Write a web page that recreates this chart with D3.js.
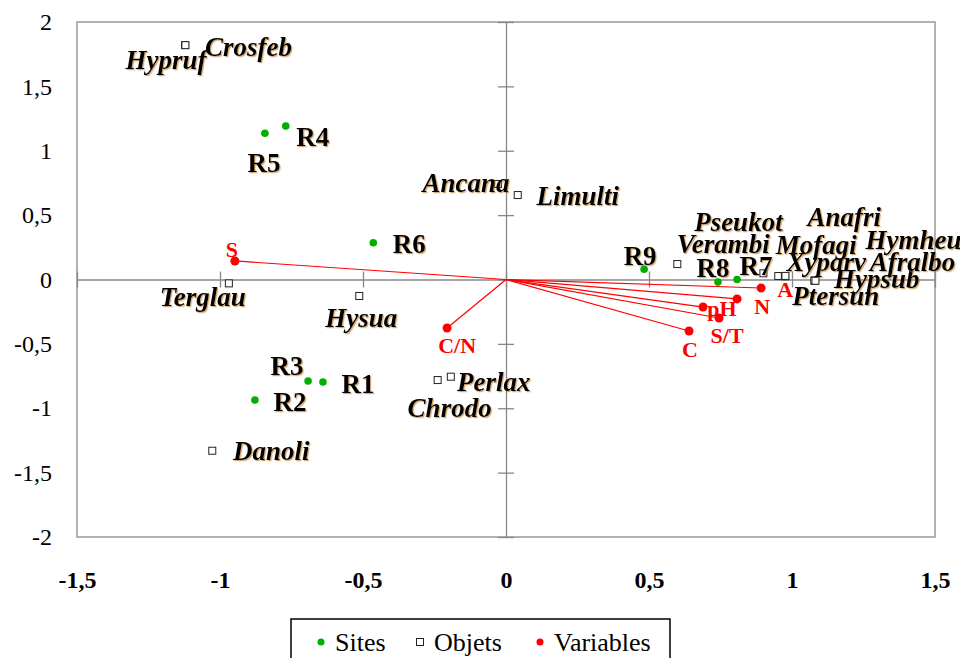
<!DOCTYPE html>
<html><head><meta charset="utf-8">
<script src="https://cdn.jsdelivr.net/npm/d3@7"></script>
<style>body{margin:0;background:#fff}svg{display:block}
text{font-family:"Liberation Serif","Times New Roman","DejaVu Serif",serif}</style></head>
<body><svg id="c" width="960" height="658"></svg>
<script>
// ---- data ----
const siteNames = ["R1","R2","R3","R4","R5","R6","R7","R8","R9"];
const siteX = [-0.640,-0.878,-0.692,-0.770,-0.843,-0.464,0.808,0.741,0.483];
const siteY = [-0.796,-0.936,-0.788,1.192,1.136,0.286,0.000,-0.020,0.080];

const objNames = ["Hypruf","Crosfeb","Ancana","Limulti","Terglau","Hysua","Chrodo","Perlax","Danoli",
  "Verambi","Pseukot","Mofagi","Xyparv","Hypsub","Ptersun","Anafri","Hymheu","Afralbo"];
const objX = [-1.122,-1.121,-0.028,0.041,-0.969,-0.513,-0.239,-0.193,-1.027,
  0.599,0.900,0.952,0.976,1.080,0.975,1.078,1.082,0.977];
const objY = [1.821,1.820,0.742,0.656,-0.030,-0.128,-0.781,-0.755,-1.330,
  0.120,0.048,0.027,0.027,-0.009,0.025,-0.008,-0.010,0.028];

const varNames = ["S","C/N","A","N","pH","S/T","C"];
const varX = [-0.948,-0.206,0.892,0.808,0.689,0.745,0.640];
const varY = [0.144,-0.377,-0.066,-0.151,-0.214,-0.299,-0.400];

const xTicks = [-1.5,-1,-0.5,0,0.5,1,1.5];
const yTicks = [-2,-1.5,-1,-0.5,0,0.5,1,1.5,2];
const legendLabels = ["Sites","Objets","Variables"];

// ---- label offsets (pixels, layout only) ----
const siteLabelOff = {R1:[35,2],R2:[35,2],R3:[-21,-15],R4:[27,11],R5:[-1,30],R6:[36,1],R7:[19,-14],R8:[-5,-14],R9:[-4,-13]};
const objLabelOff = {Hypruf:[-19,15],Crosfeb:[63,2],Ancana:[-32,-1],Limulti:[60,1],Terglau:[-26,14],Hysua:[2,22],
  Chrodo:[12,28],Perlax:[43,5],Danoli:[59,0],Verambi:[46,-20],Pseukot:[-25,-51],Mofagi:[38,-31],Xyparv:[41,-14],
  Hypsub:[62,-2],Ptersun:[51,20],Anafri:[30,-64],Hymheu:[98,-41],Afralbo:[127,-14]};
const varLabelOff = {"S":[-3,-11],"C/N":[10,17],"A":[24,2],"N":[25,8],"pH":[19,1],"S/T":[8,18],"C":[1,18]};

// ---- drawing ----
const svg = d3.select("#c");
const L=77,R=935,T=22,B=537;
const x = d3.scaleLinear().domain([-1.5,1.5]).range([L,R]);
const y = d3.scaleLinear().domain([-2,2]).range([B,T]);
const fmt = v => String(v).replace(".",",");
const serif = '"Liberation Serif","Times New Roman","DejaVu Serif",serif';

const defs = svg.append("defs");
const f = defs.append("filter").attr("id","sh").attr("x","-10%").attr("y","-10%").attr("width","130%").attr("height","140%");
f.append("feDropShadow").attr("dx",1.2).attr("dy",1.2).attr("stdDeviation",0.6).attr("flood-color","#b07020").attr("flood-opacity",0.6);

// frame
svg.append("rect").attr("x",L).attr("y",T).attr("width",R-L).attr("height",B-T)
  .attr("fill","none").attr("stroke","#999").attr("stroke-width",1.5);

// zero axes with cross ticks
const gx = svg.append("g").attr("transform",`translate(0,${y(0)})`)
  .call(d3.axisBottom(x).tickValues(xTicks).tickSizeInner(8).tickSizeOuter(0).tickFormat(""));
gx.selectAll(".tick line").attr("y1",-8).attr("y2",8);
const gy = svg.append("g").attr("transform",`translate(${x(0)},0)`)
  .call(d3.axisLeft(y).tickValues(yTicks).tickSizeInner(8).tickSizeOuter(0).tickFormat(""));
gy.selectAll(".tick line").attr("x1",-8).attr("x2",8);
[gx,gy].forEach(g=>{g.selectAll("path,line").attr("stroke","#888").attr("stroke-width",1.3);});

// tick labels
const gxl = svg.append("g").attr("transform",`translate(0,${B})`)
  .call(d3.axisBottom(x).tickValues(xTicks).tickSize(0).tickPadding(34).tickFormat(fmt));
gxl.attr("font-family",null).attr("font-size",null);
gxl.select(".domain").remove();
gxl.selectAll("text").style("font-family",serif).style("font-size","24px").style("font-weight","bold").attr("fill","#000");
const gyl = svg.append("g").attr("transform",`translate(${L},0)`)
  .call(d3.axisLeft(y).tickValues(yTicks).tickSize(0).tickPadding(25).tickFormat(fmt));
gyl.attr("font-family",null).attr("font-size",null);
gyl.select(".domain").remove();
gyl.selectAll("text").style("font-family",serif).style("font-size","24px").attr("fill","#000");

// variable arrows
const vars = varNames.map((n,i)=>({n,x:varX[i],y:varY[i]}));
svg.append("g").selectAll("line").data(vars).join("line")
  .attr("x1",x(0)).attr("y1",y(0)).attr("x2",d=>x(d.x)).attr("y2",d=>y(d.y))
  .attr("stroke","#ff0000").attr("stroke-width",1.2);

// objects
const objs = objNames.map((n,i)=>({n,x:objX[i],y:objY[i]}));
svg.append("g").selectAll("rect").data(objs).join("rect")
  .attr("x",d=>x(d.x)-3.5).attr("y",d=>y(d.y)-3.5).attr("width",7).attr("height",7)
  .attr("fill","#fff").attr("stroke","#222").attr("stroke-width",1);

// sites
const sites = siteNames.map((n,i)=>({n,x:siteX[i],y:siteY[i]}));
svg.append("g").selectAll("circle").data(sites).join("circle")
  .attr("cx",d=>x(d.x)).attr("cy",d=>y(d.y)).attr("r",3.8).attr("fill","#00b000");

// variable dots
svg.append("g").selectAll("circle").data(vars).join("circle")
  .attr("cx",d=>x(d.x)).attr("cy",d=>y(d.y)).attr("r",4.5).attr("fill","#ff0000");

// labels
svg.append("g").selectAll("text").data(sites).join("text")
  .attr("x",d=>x(d.x)+siteLabelOff[d.n][0]).attr("y",d=>y(d.y)+siteLabelOff[d.n][1])
  .attr("text-anchor","middle").attr("dominant-baseline","central")
  .style("font-size","27px").style("font-weight","bold").attr("fill","#000")
  .attr("filter","url(#sh)").text(d=>d.n);
svg.append("g").selectAll("text").data(objs).join("text")
  .attr("x",d=>x(d.x)+objLabelOff[d.n][0]).attr("y",d=>y(d.y)+objLabelOff[d.n][1])
  .attr("text-anchor","middle").attr("dominant-baseline","central")
  .style("font-size","27px").style("font-weight","bold").style("font-style","italic").attr("fill","#000")
  .attr("filter","url(#sh)").text(d=>d.n);
svg.append("g").selectAll("text").data(vars).join("text")
  .attr("x",d=>x(d.x)+varLabelOff[d.n][0]).attr("y",d=>y(d.y)+varLabelOff[d.n][1])
  .attr("text-anchor","middle").attr("dominant-baseline","central")
  .style("font-size","22px").style("font-weight","bold").attr("fill","#ff0000")
  .text(d=>d.n);

// legend
const lg = svg.append("g");
lg.append("rect").attr("x",291).attr("y",619).attr("width",379).attr("height",50)
  .attr("fill","#fff").attr("stroke","#000").attr("stroke-width",1.5);
const lgX = [321,420,540];
lg.append("circle").attr("cx",lgX[0]).attr("cy",642).attr("r",3.5).attr("fill","#00b000");
lg.append("rect").attr("x",lgX[1]-3.5).attr("y",638.5).attr("width",7).attr("height",7).attr("fill","#fff").attr("stroke","#222");
lg.append("circle").attr("cx",lgX[2]).attr("cy",642).attr("r",3.5).attr("fill","#ff0000");
legendLabels.forEach((t,i)=>{
  lg.append("text").attr("x",lgX[i]+14).attr("y",642).attr("dominant-baseline","central")
    .style("font-size","26px").attr("fill","#000").text(t);
});
</script></body></html>
